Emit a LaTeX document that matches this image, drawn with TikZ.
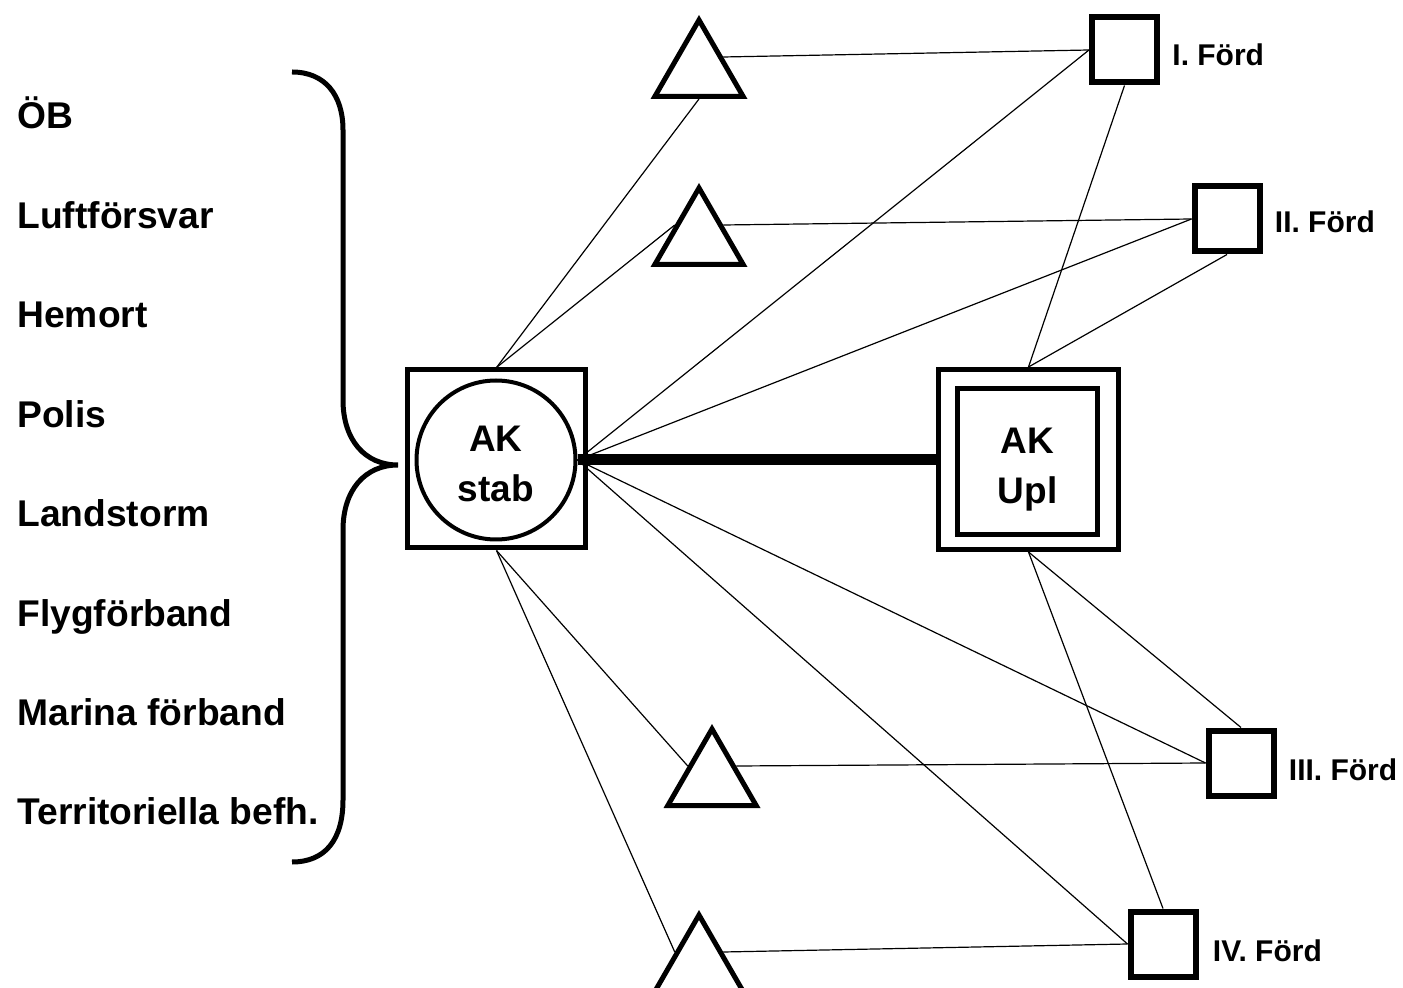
\documentclass[tikz,border=0pt]{standalone}
\usepackage{fontspec}
\setmainfont{Liberation Sans}
\usetikzlibrary{shapes.geometric,positioning}

\begin{document}
\begin{tikzpicture}[x=0.5pt, y=-0.5pt,
  sidetext/.style={font=\fontsize{18.6}{22}\selectfont\bfseries, inner sep=0pt, anchor=base west},
  cmdtext/.style={font=\fontsize{18.5}{25}\selectfont\bfseries, align=center, text depth=0pt},
  tri/.style={regular polygon, regular polygon sides=3, draw, line width=2.5pt, minimum size=51pt, inner sep=0pt},
  unit/.style={rectangle, draw, line width=3pt, minimum size=32.5pt, inner sep=0pt},
  unitname/.style={font=\fontsize{15}{18}\selectfont\bfseries, inner sep=0pt},
  link/.style={line width=0.6pt}
]
  \useasboundingbox (0,0) rectangle (1403,988);

  % staff members on the left
  \foreach \name [count=\i from 0] in {ÖB, Luftförsvar, Hemort, Polis, Landstorm, Flygförband, Marina förband, Territoriella befh.}
    \node[sidetext] (lab\i) at (17,129+99.4*\i) {\name};
  \draw[line width=2.5pt] (292,72) .. controls (325,72) and (343,95) .. (343,130) -- (343,400)
    .. controls (343,440) and (365,465) .. (398,465) .. controls (365,465) and (343,490) .. (343,530)
    -- (343,800) .. controls (343,840) and (325,862) .. (292,862);

  % command posts
  \node[rectangle, draw, line width=2.5pt, minimum size=89pt] (stabbox) at (496.5,459) {};
  \node[circle, draw, line width=2pt, minimum size=79.5pt, cmdtext] (stab) at (496,460) {\rule{0pt}{17pt}AK\\stab};
  \node[rectangle, draw, line width=2.5pt, minimum size=90pt] (uplbox) at (1028.5,459.5) {};
  \node[rectangle, draw, line width=2.5pt, minimum width=70pt, minimum height=73pt, cmdtext] (upl) at (1027.5,461.8) {\rule{0pt}{16.5pt}AK\\Upl};

  % triangles
  \node[tri] (T1) at (699,71) {};
  \node[tri] (T2) at (699,239) {};
  \node[tri] (T3) at (712,780) {};
  \node[tri] (T4) at (699,966) {};

  % units
  \node[unit] (S1) at (1124.5,50) {};
  \node[unit] (S2) at (1227,219) {};
  \node[unit] (S3) at (1241,763) {};
  \node[unit] (S4) at (1163,944) {};
  \node[unitname, right=6pt of S1, anchor=base west, yshift=-8pt] (S1lab) {I. Förd};
  \node[unitname, right=6pt of S2, anchor=base west, yshift=-7pt] (S2lab) {II. Förd};
  \node[unitname, right=6pt of S3, anchor=base west, yshift=-8.5pt] (S3lab) {III. Förd};
  \node[unitname, right=7pt of S4, anchor=base west, yshift=-8.5pt] (S4lab) {IV. Förd};

  % connections
  \draw[line width=5.5pt] (stab.east) -- (stab.east -| uplbox.west);
  \draw[link] (stabbox.north) -- (T1.side 2);
  \draw[link] (stabbox.north) -- (T2.side 1);
  \draw[link] (stabbox.south) -- (T3.side 1);
  \draw[link] (stabbox.south) -- (T4.side 1);
  \foreach \s in {S1,S2,S3,S4}
    \draw[link] (stab.east) -- (\s.west);
  \foreach \t/\s in {T1/S1,T2/S2,T3/S3,T4/S4}
    \draw[link] (\t.side 3) -- (\s.west);
  \draw[link] (S1.south) -- (uplbox.north);
  \draw[link] (S2.south) -- (uplbox.north);
  \draw[link] (uplbox.south) -- (S3.north);
  \draw[link] (uplbox.south) -- (S4.north);
\end{tikzpicture}
\end{document}
